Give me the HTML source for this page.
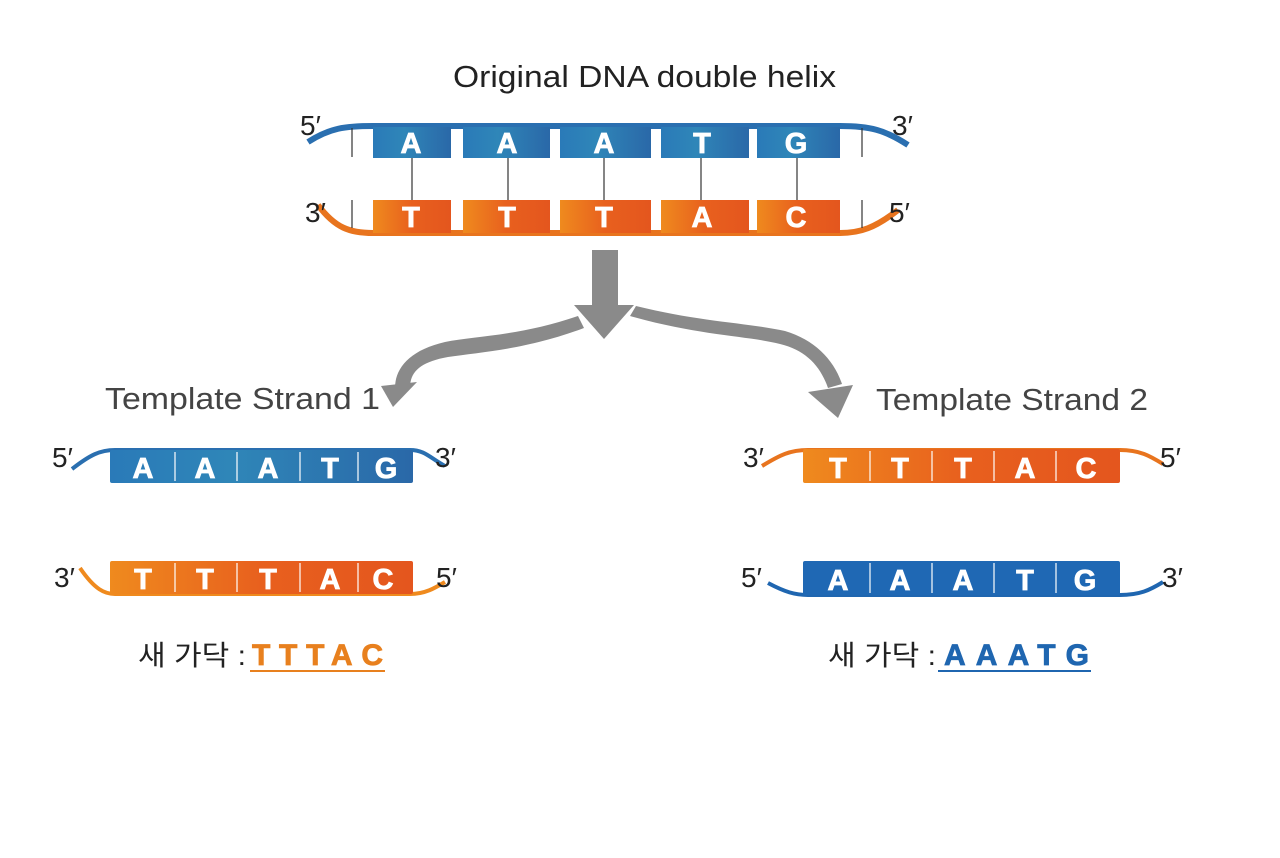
<!DOCTYPE html>
<html><head><meta charset="utf-8"><style>
body{margin:0;background:#fff;width:1280px;height:853px;overflow:hidden}
svg text{font-family:"Liberation Sans","Noto Sans CJK KR",sans-serif}
.b{font-weight:900;fill:#fff;font-size:29px;text-anchor:middle;stroke:#fff;stroke-width:0.8}
.p{font-size:28px;fill:#222}
</style></head><body>
<svg width="1280" height="853" viewBox="0 0 1280 853" xmlns="http://www.w3.org/2000/svg">
<defs>
<linearGradient id="bl" x1="0" x2="1"><stop offset="0" stop-color="#2a7ab8"/><stop offset="0.4" stop-color="#2f86b8"/><stop offset="1" stop-color="#2a68a8"/></linearGradient>
<linearGradient id="or" x1="0" x2="1"><stop offset="0" stop-color="#ef8a1e"/><stop offset="0.5" stop-color="#e8601e"/><stop offset="1" stop-color="#e4561e"/></linearGradient>
</defs>
<text x="453" y="87" font-size="31" fill="#222" textLength="383" lengthAdjust="spacingAndGlyphs">Original DNA double helix</text>
<!-- top helix -->
<path d="M308 142 C330 128 345 126 373 126 L840 126 C870 126 885 130 908 145" stroke="#2a6fb0" stroke-width="6" fill="none"/>
<path d="M318 205 C335 228 350 233 373 233 L840 233 C860 233 875 228 898 210" stroke="#e8741e" stroke-width="6" fill="none"/>
<g fill="url(#bl)"><rect x="373" y="127" width="78" height="31"/><rect x="463" y="127" width="87" height="31"/><rect x="560" y="127" width="91" height="31"/><rect x="661" y="127" width="88" height="31"/><rect x="757" y="127" width="83" height="31"/></g>
<g fill="url(#or)"><rect x="373" y="200" width="78" height="33"/><rect x="463" y="200" width="87" height="33"/><rect x="560" y="200" width="91" height="33"/><rect x="661" y="200" width="88" height="33"/><rect x="757" y="200" width="83" height="33"/></g>
<g stroke="#333" stroke-width="1.2"><line x1="352" y1="128" x2="352" y2="157"/><line x1="862" y1="128" x2="862" y2="157"/><line x1="352" y1="200" x2="352" y2="228"/><line x1="862" y1="200" x2="862" y2="228"/>
<line x1="412" y1="158" x2="412" y2="200"/><line x1="508" y1="158" x2="508" y2="200"/><line x1="604" y1="158" x2="604" y2="200"/><line x1="701" y1="158" x2="701" y2="200"/><line x1="797" y1="158" x2="797" y2="200"/></g>
<g class="b"><text x="411" y="153">A</text><text x="507" y="153">A</text><text x="604" y="153">A</text><text x="702" y="153">T</text><text x="796" y="153">G</text>
<text x="411" y="227">T</text><text x="507" y="227">T</text><text x="604" y="227">T</text><text x="702" y="227">A</text><text x="796" y="227">C</text></g>
<g class="p"><text x="300" y="135">5′</text><text x="892" y="135">3′</text><text x="305" y="222">3′</text><text x="889" y="222">5′</text></g>
<!-- arrows -->
<g fill="#8a8a8a">
<rect x="592" y="250" width="26" height="56"/><polygon points="574,305 634,305 604,339"/>
<path d="M578 316 C520 336 475 336 445 342 C410 350 395 368 395 388 L410 388 C410 372 420 362 448 357 C480 352 525 350 584 328 Z"/>
<polygon points="381,386 417,382 393,407"/>
<path d="M630 316 C700 336 750 336 780 344 C805 350 820 365 828 388 L842 384 C834 360 815 340 785 331 C750 323 700 322 636 306 Z"/>
<polygon points="808,392 853,385 838,418"/>
</g>
<text x="105" y="409" font-size="31" fill="#444" textLength="275" lengthAdjust="spacingAndGlyphs">Template Strand 1</text>
<text x="876" y="410" font-size="31" fill="#444" textLength="272" lengthAdjust="spacingAndGlyphs">Template Strand 2</text>
<!-- left strands -->
<path d="M72 469 C90 455 100 450 115 450 L410 450 C425 450 430 458 445 466" stroke="#2a6fb0" stroke-width="4" fill="none"/>
<rect x="110" y="450" width="303" height="33" fill="url(#bl)" rx="2"/>
<path d="M80 568 C95 590 105 594 115 594 L410 594 C425 594 435 588 445 582" stroke="#ef8a1e" stroke-width="4" fill="none"/>
<rect x="110" y="561" width="303" height="33" fill="url(#or)" rx="2"/>
<g stroke="#fff" stroke-width="1.2"><line x1="175" y1="452" x2="175" y2="481"/><line x1="237" y1="452" x2="237" y2="481"/><line x1="300" y1="452" x2="300" y2="481"/><line x1="358" y1="452" x2="358" y2="481"/>
<line x1="175" y1="563" x2="175" y2="592"/><line x1="237" y1="563" x2="237" y2="592"/><line x1="300" y1="563" x2="300" y2="592"/><line x1="358" y1="563" x2="358" y2="592"/></g>
<g class="b"><text x="143" y="478">A</text><text x="205" y="478">A</text><text x="268" y="478">A</text><text x="330" y="478">T</text><text x="386" y="478">G</text>
<text x="143" y="589">T</text><text x="205" y="589">T</text><text x="268" y="589">T</text><text x="330" y="589">A</text><text x="383" y="589">C</text></g>
<g class="p"><text x="52" y="467">5′</text><text x="435" y="467">3′</text><text x="54" y="587">3′</text><text x="436" y="587">5′</text></g>
<text x="138" y="665" font-size="28" fill="#222" textLength="108" lengthAdjust="spacingAndGlyphs">새 가닥 :</text>
<text x="252" y="665" font-size="30" font-weight="900" fill="#e8801e" stroke="#e8801e" stroke-width="0.8" textLength="131" lengthAdjust="spacing">TTTAC</text>
<line x1="250" y1="671" x2="385" y2="671" stroke="#e8801e" stroke-width="2"/>
<!-- right strands -->
<path d="M762 466 C780 455 790 450 808 450 L1120 450 C1140 450 1150 456 1163 464" stroke="#e8741e" stroke-width="4" fill="none"/>
<rect x="803" y="449" width="317" height="34" fill="url(#or)" rx="2"/>
<path d="M768 583 C785 592 795 595 808 595 L1120 595 C1140 595 1150 590 1163 582" stroke="#1f66b0" stroke-width="4" fill="none"/>
<rect x="803" y="561" width="317" height="34" fill="#1f68b4" rx="2"/>
<g stroke="#fff" stroke-width="1.2"><line x1="870" y1="451" x2="870" y2="481"/><line x1="932" y1="451" x2="932" y2="481"/><line x1="994" y1="451" x2="994" y2="481"/><line x1="1056" y1="451" x2="1056" y2="481"/>
<line x1="870" y1="563" x2="870" y2="593"/><line x1="932" y1="563" x2="932" y2="593"/><line x1="994" y1="563" x2="994" y2="593"/><line x1="1056" y1="563" x2="1056" y2="593"/></g>
<g class="b"><text x="838" y="478">T</text><text x="900" y="478">T</text><text x="963" y="478">T</text><text x="1025" y="478">A</text><text x="1086" y="478">C</text>
<text x="838" y="590">A</text><text x="900" y="590">A</text><text x="963" y="590">A</text><text x="1025" y="590">T</text><text x="1085" y="590">G</text></g>
<g class="p"><text x="743" y="467">3′</text><text x="1160" y="467">5′</text><text x="741" y="587">5′</text><text x="1162" y="587">3′</text></g>
<text x="828" y="665" font-size="28" fill="#222" textLength="108" lengthAdjust="spacingAndGlyphs">새 가닥 :</text>
<text x="944" y="665" font-size="30" font-weight="900" fill="#1f66b0" stroke="#1f66b0" stroke-width="0.8" textLength="145" lengthAdjust="spacing">AAATG</text>
<line x1="938" y1="671" x2="1091" y2="671" stroke="#1f66b0" stroke-width="2"/>
</svg>
</body></html>
